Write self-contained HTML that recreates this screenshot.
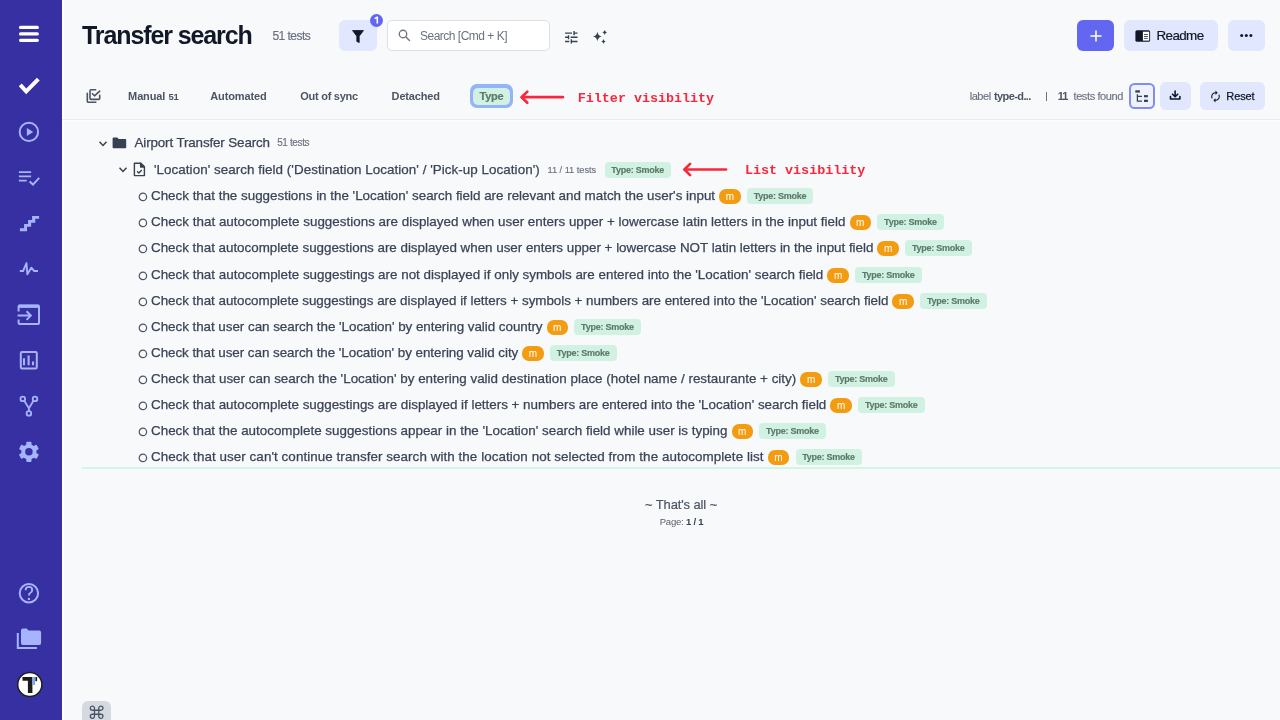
<!DOCTYPE html>
<html><head><meta charset="utf-8"><title>Transfer search</title>
<style>
html,body{margin:0;padding:0}
body{width:1280px;height:720px;overflow:hidden;position:relative;background:#f8f9fb;font-family:"Liberation Sans",sans-serif}
#sb{position:absolute;left:0;top:0;width:62px;height:720px;background:#3730a3}
.t{position:absolute;white-space:nowrap;line-height:1;-webkit-font-smoothing:antialiased}
.b{position:absolute}
svg{display:block}
#root{position:absolute;left:0;top:0;width:1280px;height:720px;will-change:transform}
</style></head><body><div id="root">
<div id="sb"></div><div style="position:absolute;left:62px;top:0;width:2px;height:720px;background:#fff"></div><svg style="position:absolute;left:0;top:0" width="62" height="720" viewBox="0 0 62 720">
<g stroke="#fff" stroke-linecap="round" fill="none">
<path d="M20.6 27.4H37.3M20.6 33.9H37.3M20.6 40.3H37.3" stroke-width="3.3"/>
<path d="M21.6 86.3L26.2 91.4L36.9 80.6" stroke-width="4" stroke-linecap="square"/>
</g>
<g stroke="#a5b4fc" fill="none" stroke-width="2">
<circle cx="28.9" cy="131.9" r="9.2"/>
<path d="M18.9 172.2H31.1M18.9 176.3H31.1M18.9 180.6H26.7" stroke-width="1.8"/>
<path d="M29.6 181.6L33 184.6L39.2 177.9"/>

<path d="M19.8 271H23.1L26.5 263.2L27.3 274.3L31.3 267.7L34.2 271H38" stroke-width="1.9" stroke-linejoin="round" stroke-linecap="butt"/>
<path d="M18.6 311.5V306.4Q18.6 305.4 19.6 305.4H38Q39 305.4 39 306.4V323Q39 324 38 324H19.6Q18.6 324 18.6 323V319.6"/>
<path d="M18.6 306.3H39" stroke-width="3.2"/>
<path d="M17.6 315.6H30.5M26.6 311.3L30.8 315.6L26.6 319.9"/>
<rect x="20.8" y="352.1" width="16" height="16.3" rx="1.2"/>
<path d="M24 358.3V365.3M28.6 355.6V365.3M33 361.4V365.3" stroke-width="2.1"/>
<circle cx="22.8" cy="398.9" r="2.3" stroke-width="1.8"/>
<circle cx="35" cy="398.9" r="2.3" stroke-width="1.8"/>
<circle cx="28.9" cy="413.4" r="2.3" stroke-width="1.8"/>
<path d="M24.3 400.8L28.9 408.3L33.5 400.8M28.9 408.3V411.1" stroke-width="1.8"/>
<circle cx="28.9" cy="593.2" r="9.2"/>
<path d="M25.6 590.3Q25.6 586.9 28.9 586.9Q32.2 586.9 32.2 590Q32.2 592 30.2 593Q28.9 593.7 28.9 595.6" stroke-width="1.9"/>
<path d="M17.8 633V648.1H36.9"/>
</g>
<g fill="#a5b4fc">
<path d="M26.9 128.1L33.2 132.1L26.9 136.1Z"/>
<path d="M19.9 228.2H24.1V224.1H28.1V220.1H32.1V216H39.1V218.8H35.3V222.7H31.1V226.8H27V231.3H19.9Z"/>
<circle cx="28.9" cy="598.9" r="1.2"/>
<path d="M21 630.5Q21 628.6 22.9 628.6H26.6L28.6 630.6H39.2Q41.1 630.6 41.1 632.5V643.1Q41.1 645 39.2 645H22.9Q21 645 21 643.1Z"/>
</g>
<g transform="translate(28.9 451.8)">
<g fill="#a5b4fc">
<circle r="7.6"/>
<rect x="-2.6" y="-10.1" width="5.2" height="20.2" rx="1"/>
<rect x="-2.6" y="-10.1" width="5.2" height="20.2" rx="1" transform="rotate(60)"/>
<rect x="-2.6" y="-10.1" width="5.2" height="20.2" rx="1" transform="rotate(120)"/>
</g>
<circle r="3.75" fill="#3730a3"/>
</g>
<circle cx="29.8" cy="684.5" r="12.1" fill="#fff" stroke="#1f1f1f" stroke-width="1.5"/>
<path d="M22.5 677H32.4V692.9H27.9V680.8H22.5Z" fill="#1c1c1c"/>
<rect x="33.3" y="677" width="1.5" height="8" fill="#4f8ff7"/>
<rect x="35.4" y="677" width="1.7" height="4.2" fill="#1c1c1c"/>
</svg><div class="t " style="left:82.00px;top:23px;font-size:25px;font-weight:bold;color:#111827;letter-spacing:-1.1px">Transfer search</div>
<div class="t " style="left:272.50px;top:30px;font-size:12px;color:#6b7280;letter-spacing:-0.55px;-webkit-text-stroke:0.2px #6b7280">51 tests</div>
<div class="b" style="left:339.40px;top:20.30px;width:37.60px;height:30.70px;background:#e0e7ff;border-radius:6px"></div>
<svg style="position:absolute;left:352.2px;top:29.5px" width="12" height="13" viewBox="0 0 12 13"><path d="M0.5 0.5H11.5L7.2 6.2V12.6L4.8 11.4V6.2Z" fill="#111827" stroke="#111827" stroke-width="0.8" stroke-linejoin="round"/></svg><div class="b" style="left:370.40px;top:13.70px;width:13.00px;height:13.10px;background:#6366f1;border-radius:50%"></div>
<svg style="position:absolute;left:370px;top:13px" width="14" height="14" viewBox="370 13 14 14"><path d="M374.6 18.6L377.3 17.1V23.4" fill="none" stroke="#fff" stroke-width="1.6" stroke-linejoin="round"/></svg>
<div class="b" style="left:387.00px;top:20.00px;width:163.00px;height:31.00px;background:#fff;border:1px solid #dcdfe4;border-radius:5px;box-sizing:border-box"></div>
<svg style="position:absolute;left:396px;top:27px" width="16" height="16" viewBox="396 27 16 16"><circle cx="403" cy="34" r="3.75" fill="none" stroke="#6b7280" stroke-width="1.3"/><path d="M405.9 36.9L409.5 40.5" stroke="#6b7280" stroke-width="1.4" stroke-linecap="round"/></svg>
<div class="t " style="left:420.00px;top:30px;font-size:12px;color:#6b7280;letter-spacing:-0.5px">Search [Cmd + K]</div>
<svg style="position:absolute;left:563px;top:28.8px" width="16.6" height="16.6" viewBox="0 0 24 24"><path d="M3 17v2h6v-2H3zM3 5v2h10V5H3zm10 16v-2h8v-2h-8v-2h-2v6h2zM7 9v2H3v2h4v2h2V9H7zm14 4v-2H11v2h10zm-6-4h2V7h4V5h-4V3h-2v6z" fill="#374151"/></svg><svg style="position:absolute;left:590px;top:28px" width="20" height="18" viewBox="0 0 20 18"><path fill="#374151" d="M7.40 3.50Q7.95 7.85 11.80 8.40Q7.95 8.95 7.40 13.30Q6.85 8.95 3.00 8.40Q6.85 7.85 7.40 3.50ZM14.70 2.10Q15.15 4.05 17.00 4.50Q15.15 4.95 14.70 6.90Q14.25 4.95 12.40 4.50Q14.25 4.05 14.70 2.10ZM13.50 10.90Q13.95 12.95 15.70 13.40Q13.95 13.85 13.50 15.90Q13.05 13.85 11.30 13.40Q13.05 12.95 13.50 10.90Z"/></svg><div class="b" style="left:1076.60px;top:20.30px;width:37.70px;height:30.70px;background:#6366f1;border-radius:6px"></div>
<svg style="position:absolute;left:1089.5px;top:29.8px" width="12" height="12" viewBox="0 0 12 12"><path d="M6 1V11M1 6H11" stroke="#fff" stroke-width="1.55" stroke-linecap="round"/></svg><div class="b" style="left:1124.10px;top:20.30px;width:93.60px;height:30.70px;background:#e0e7ff;border-radius:6px"></div>
<svg style="position:absolute;left:1133px;top:28px" width="20" height="16" viewBox="1133 28 20 16"><rect x="1135.4" y="30.2" width="14.7" height="11.6" rx="1.6" fill="#111827"/><rect x="1142.9" y="31.7" width="6.3" height="8.9" fill="#fff"/><path d="M1144 34.5H1147.8M1144 36.5H1147.8M1144 38.4H1147.8" stroke="#3b4252" stroke-width="0.9"/></svg>
<div class="t " style="left:1156.50px;top:29px;font-size:13.4px;color:#111827;letter-spacing:-0.6px;-webkit-text-stroke:0.2px #111827">Readme</div>
<div class="b" style="left:1227.50px;top:20.30px;width:37.40px;height:30.70px;background:#e0e7ff;border-radius:6px"></div>
<svg style="position:absolute;left:1240px;top:33px" width="13" height="5" viewBox="0 0 13 5"><g fill="#111827"><circle cx="1.7" cy="2.5" r="1.5"/><circle cx="6.3" cy="2.5" r="1.5"/><circle cx="10.9" cy="2.5" r="1.5"/></g></svg><svg style="position:absolute;left:80px;top:84px" width="28" height="24" viewBox="0 0 28 24"><g fill="none" stroke="#4b5563" stroke-width="1.6" stroke-linecap="round" stroke-linejoin="round"><path d="M7.3 9.4V17.2Q7.3 18.3 8.4 18.3H15.8"/><path d="M15.6 5.8H11.1Q10 5.8 10 6.9V14.3Q10 15.4 11.1 15.4H18.6Q19.7 15.4 19.7 14.3V11.4"/><path d="M12.4 9.7L14.5 11.8L19.7 7.2"/></g></svg><div class="t " style="left:128.10px;top:91px;font-size:11px;color:#4b5563;font-weight:bold;letter-spacing:-0.13px">Manual</div>
<div class="t " style="left:168.50px;top:92px;font-size:9.5px;color:#4b5563;font-weight:bold;letter-spacing:-0.3px">51</div>
<div class="t " style="left:210.30px;top:91px;font-size:11px;color:#4b5563;font-weight:bold;letter-spacing:-0.14px">Automated</div>
<div class="t " style="left:300.20px;top:91px;font-size:11px;color:#4b5563;font-weight:bold;letter-spacing:-0.25px">Out of sync</div>
<div class="t " style="left:391.60px;top:91px;font-size:11px;color:#4b5563;font-weight:bold;letter-spacing:-0.16px">Detached</div>
<div class="b" style="left:470.00px;top:84.40px;width:43.00px;height:23.40px;border-radius:7px;background:#93b4f9"></div>
<div class="b" style="left:473.20px;top:87.70px;width:36.60px;height:16.90px;border-radius:5px;background:#d1f2e3"></div>
<div class="t " style="left:479.60px;top:91px;font-size:11px;color:#5b7a69;font-weight:bold;letter-spacing:-0.3px;-webkit-text-stroke:0.2px #5b7a69">Type</div>
<svg style="position:absolute;left:515px;top:86px" width="55" height="22" viewBox="515 86 55 22"><g fill="none" stroke="#f5283e" stroke-width="2.7" stroke-linecap="round" stroke-linejoin="round"><path d="M522 97.2H562.9"/><path d="M527.3 91.6L521.6 97.2L527.3 102.8"/></g></svg>
<div class="t " style="left:577.80px;top:92px;font-size:13.4px;color:#f5283e;font-weight:bold;font-family:'Liberation Mono',monospace;letter-spacing:-0.02px">Filter visibility</div>
<div class="t " style="left:969.70px;top:91px;font-size:11px;color:#6b7280;-webkit-text-stroke:0.15px #6b7280;letter-spacing:-0.45px">label</div>
<div class="t " style="left:994.00px;top:91px;font-size:11px;color:#4b5563;font-weight:bold;letter-spacing:-0.6px">type-d...</div>
<div class="b" style="left:1045.60px;top:91.50px;width:1.30px;height:9.30px;background:#6b7280"></div>
<div class="t " style="left:1057.80px;top:91px;font-size:11px;color:#4b5563;font-weight:bold;letter-spacing:-1px">11</div>
<div class="t " style="left:1073.50px;top:91px;font-size:11px;color:#6b7280;-webkit-text-stroke:0.15px #6b7280;letter-spacing:-0.4px">tests found</div>
<div class="b" style="left:1128.90px;top:83.10px;width:25.80px;height:25.80px;border:2px solid #818cf8;border-radius:5.5px;background:#eef2ff;box-sizing:border-box"></div>
<svg style="position:absolute;left:1132px;top:88px" width="20" height="18" viewBox="1132 88 20 18"><g fill="#374151"><rect x="1135.3" y="90.3" width="4.6" height="2.3"/><rect x="1144" y="95.1" width="3.9" height="2.2"/><rect x="1144" y="99.7" width="3.9" height="2.3"/></g><path d="M1137.4 94.3V101.1H1142M1137.4 96.3H1142" fill="none" stroke="#374151" stroke-width="1.3"/></svg>
<div class="b" style="left:1159.70px;top:82.30px;width:31.00px;height:27.70px;background:#e0e7ff;border-radius:6px"></div>
<svg style="position:absolute;left:1166px;top:88px" width="18" height="14" viewBox="1166 88 18 14"><g fill="none" stroke="#111827" stroke-width="1.6" stroke-linecap="round" stroke-linejoin="round"><path d="M1175.1 91V96.4M1172.5 94.2L1175.1 96.8L1177.7 94.2"/><path d="M1170.5 96.6V99H1179.9V96.6"/></g></svg>
<div class="b" style="left:1200.30px;top:82.30px;width:64.50px;height:27.70px;background:#e0e7ff;border-radius:6px"></div>
<svg style="position:absolute;left:1209.4px;top:89.7px" width="13" height="13" viewBox="0 0 24 24"><path transform="translate(24 0) scale(-1 1)" fill="#111827" d="M12 4V1L8 5l4 4V6c3.31 0 6 2.690 6 6 0 1.01-.25 1.97-.7 2.8l1.46 1.46C19.54 15.03 20 13.57 20 12c0-4.42-3.58-8-8-8zm0 14c-3.31 0-6-2.69-6-6 0-1.010.25-1.97.7-2.8L5.24 7.74C4.46 8.97 4 10.43 4 12c0 4.42 3.58 8 8 8v3l4-4-4-4v3z"/></svg><div class="t " style="left:1226.30px;top:91px;font-size:11px;color:#111827;letter-spacing:-0.1px;-webkit-text-stroke:0.25px #111827">Reset</div>
<div class="b" style="left:62.00px;top:119.00px;width:1218.00px;height:1.00px;background:#eaebef"></div>
<div class="b" style="left:62.00px;top:120.00px;width:1218.00px;height:1.00px;background:#fcfcfd"></div>
<svg style="position:absolute;left:98px;top:139.5px" width="10" height="8" viewBox="0 0 10 8"><path d="M1.5 1.8L5 5.4L8.5 1.8" fill="none" stroke="#374151" stroke-width="1.5"/></svg><svg style="position:absolute;left:111.9px;top:137px" width="15" height="12" viewBox="0 0 15 12"><path d="M0.6 1.4Q0.6 0.4 1.6 0.4H5.2L6.8 2H13.2Q14.2 2 14.2 3V10.2Q14.2 11.2 13.2 11.2H1.6Q0.6 11.2 0.6 10.2Z" fill="#374151"/></svg><div class="t " style="left:134.50px;top:136px;font-size:13.4px;color:#3a4456;-webkit-text-stroke:0.25px #3a4456;letter-spacing:-0.13px">Airport Transfer Search</div>
<div class="t " style="left:277.20px;top:138px;font-size:10px;color:#6b7280;-webkit-text-stroke:0.15px #6b7280;letter-spacing:-0.38px">51 tests</div>
<svg style="position:absolute;left:117.5px;top:165.5px" width="10" height="8" viewBox="0 0 10 8"><path d="M1.5 1.8L5 5.4L8.5 1.8" fill="none" stroke="#374151" stroke-width="1.5"/></svg><svg style="position:absolute;left:133px;top:162px" width="13" height="15" viewBox="0 0 13 15"><g fill="none" stroke="#374151" stroke-width="1.4" stroke-linejoin="round"><path d="M1.4 1.2H7.8L11.4 4.8V13.6H1.4Z"/><path d="M7.6 1.2V5H11.4Z" fill="#374151"/><path d="M4.1 9.2L5.8 10.9L8.8 7.9"/></g></svg><div class="t " style="left:154.00px;top:163px;font-size:13.4px;color:#3a4456;-webkit-text-stroke:0.25px #3a4456;letter-spacing:0.05px">'Location' search field ('Destination Location' / 'Pick-up Location')</div>
<div class="t " style="left:547.50px;top:166px;font-size:9.3px;color:#6b7280;-webkit-text-stroke:0.15px #6b7280;letter-spacing:-0.05px">11 / 11 tests</div>
<div class="b" style="left:604.60px;top:161.75px;width:66.40px;height:16.10px;background:#d1f2e3;border-radius:4px"></div>
<div class="t " style="left:611.30px;top:166px;font-size:9px;color:#5b7a69;font-weight:bold;letter-spacing:-0.25px;-webkit-text-stroke:0.15px #5b7a69">Type: Smoke</div>
<svg style="position:absolute;left:678px;top:158px" width="55" height="22" viewBox="678 158 55 22"><g fill="none" stroke="#f5283e" stroke-width="2.7" stroke-linecap="round" stroke-linejoin="round"><path d="M685 169.5H726"/><path d="M690.1 163.9L684.4 169.5L690.1 175.1"/></g></svg>
<div class="t " style="left:745.00px;top:164px;font-size:13.4px;color:#f5283e;font-weight:bold;font-family:'Liberation Mono',monospace;letter-spacing:-0.02px">List visibility</div>
<svg style="position:absolute;left:137.5px;top:191.95px" width="10" height="10" viewBox="0 0 10 10"><circle cx="4.9" cy="4.9" r="3.7" fill="none" stroke="#4b5563" stroke-width="1.2"/></svg>
<div class="t " style="left:151.00px;top:189px;font-size:13.4px;color:#3a4456;-webkit-text-stroke:0.25px #3a4456;letter-spacing:-0.0038px">Check that the suggestions in the &#39;Location&#39; search field are relevant and match the user&#39;s input</div>
<div class="b" style="left:719.10px;top:188.70px;width:21.60px;height:15.00px;background:#f39c12;border-radius:7px"></div>
<div class="t " style="left:725.70px;top:192px;font-size:10px;color:#fff">m</div>
<div class="b" style="left:747.00px;top:187.75px;width:66.40px;height:16.10px;background:#d1f2e3;border-radius:4px"></div>
<div class="t " style="left:753.70px;top:192px;font-size:9px;color:#5b7a69;font-weight:bold;letter-spacing:-0.25px;-webkit-text-stroke:0.15px #5b7a69">Type: Smoke</div>
<svg style="position:absolute;left:137.5px;top:217.95px" width="10" height="10" viewBox="0 0 10 10"><circle cx="4.9" cy="4.9" r="3.7" fill="none" stroke="#4b5563" stroke-width="1.2"/></svg>
<div class="t " style="left:151.00px;top:215px;font-size:13.4px;color:#3a4456;-webkit-text-stroke:0.25px #3a4456;letter-spacing:0.0159px">Check that autocomplete suggestions are displayed when user enters upper + lowercase latin letters in the input field</div>
<div class="b" style="left:849.50px;top:214.70px;width:21.60px;height:15.00px;background:#f39c12;border-radius:7px"></div>
<div class="t " style="left:856.10px;top:218px;font-size:10px;color:#fff">m</div>
<div class="b" style="left:877.40px;top:213.75px;width:66.40px;height:16.10px;background:#d1f2e3;border-radius:4px"></div>
<div class="t " style="left:884.10px;top:218px;font-size:9px;color:#5b7a69;font-weight:bold;letter-spacing:-0.25px;-webkit-text-stroke:0.15px #5b7a69">Type: Smoke</div>
<svg style="position:absolute;left:137.5px;top:243.95px" width="10" height="10" viewBox="0 0 10 10"><circle cx="4.9" cy="4.9" r="3.7" fill="none" stroke="#4b5563" stroke-width="1.2"/></svg>
<div class="t " style="left:151.00px;top:241px;font-size:13.4px;color:#3a4456;-webkit-text-stroke:0.25px #3a4456;letter-spacing:-0.0163px">Check that autocomplete suggestions are displayed when user enters upper + lowercase NOT latin letters in the input field</div>
<div class="b" style="left:877.40px;top:240.70px;width:21.60px;height:15.00px;background:#f39c12;border-radius:7px"></div>
<div class="t " style="left:884.00px;top:244px;font-size:10px;color:#fff">m</div>
<div class="b" style="left:905.30px;top:239.75px;width:66.40px;height:16.10px;background:#d1f2e3;border-radius:4px"></div>
<div class="t " style="left:912.00px;top:244px;font-size:9px;color:#5b7a69;font-weight:bold;letter-spacing:-0.25px;-webkit-text-stroke:0.15px #5b7a69">Type: Smoke</div>
<svg style="position:absolute;left:137.5px;top:270.95px" width="10" height="10" viewBox="0 0 10 10"><circle cx="4.9" cy="4.9" r="3.7" fill="none" stroke="#4b5563" stroke-width="1.2"/></svg>
<div class="t " style="left:151.00px;top:268px;font-size:13.4px;color:#3a4456;-webkit-text-stroke:0.25px #3a4456;letter-spacing:0.0021px">Check that autocomplete suggestings are not displayed if only symbols are entered into the &#39;Location&#39; search field</div>
<div class="b" style="left:827.30px;top:267.70px;width:21.60px;height:15.00px;background:#f39c12;border-radius:7px"></div>
<div class="t " style="left:833.90px;top:271px;font-size:10px;color:#fff">m</div>
<div class="b" style="left:855.20px;top:266.75px;width:66.40px;height:16.10px;background:#d1f2e3;border-radius:4px"></div>
<div class="t " style="left:861.90px;top:271px;font-size:9px;color:#5b7a69;font-weight:bold;letter-spacing:-0.25px;-webkit-text-stroke:0.15px #5b7a69">Type: Smoke</div>
<svg style="position:absolute;left:137.5px;top:296.95px" width="10" height="10" viewBox="0 0 10 10"><circle cx="4.9" cy="4.9" r="3.7" fill="none" stroke="#4b5563" stroke-width="1.2"/></svg>
<div class="t " style="left:151.00px;top:294px;font-size:13.4px;color:#3a4456;-webkit-text-stroke:0.25px #3a4456;letter-spacing:-0.0251px">Check that autocomplete suggestings are displayed if letters + symbols + numbers are entered into the &#39;Location&#39; search field</div>
<div class="b" style="left:892.40px;top:293.70px;width:21.60px;height:15.00px;background:#f39c12;border-radius:7px"></div>
<div class="t " style="left:899.00px;top:297px;font-size:10px;color:#fff">m</div>
<div class="b" style="left:920.30px;top:292.75px;width:66.40px;height:16.10px;background:#d1f2e3;border-radius:4px"></div>
<div class="t " style="left:927.00px;top:297px;font-size:9px;color:#5b7a69;font-weight:bold;letter-spacing:-0.25px;-webkit-text-stroke:0.15px #5b7a69">Type: Smoke</div>
<svg style="position:absolute;left:137.5px;top:322.95px" width="10" height="10" viewBox="0 0 10 10"><circle cx="4.9" cy="4.9" r="3.7" fill="none" stroke="#4b5563" stroke-width="1.2"/></svg>
<div class="t " style="left:151.00px;top:320px;font-size:13.4px;color:#3a4456;-webkit-text-stroke:0.25px #3a4456;letter-spacing:-0.0324px">Check that user can search the &#39;Location&#39; by entering valid country</div>
<div class="b" style="left:546.50px;top:319.70px;width:21.60px;height:15.00px;background:#f39c12;border-radius:7px"></div>
<div class="t " style="left:553.10px;top:323px;font-size:10px;color:#fff">m</div>
<div class="b" style="left:574.40px;top:318.75px;width:66.40px;height:16.10px;background:#d1f2e3;border-radius:4px"></div>
<div class="t " style="left:581.10px;top:323px;font-size:9px;color:#5b7a69;font-weight:bold;letter-spacing:-0.25px;-webkit-text-stroke:0.15px #5b7a69">Type: Smoke</div>
<svg style="position:absolute;left:137.5px;top:348.95px" width="10" height="10" viewBox="0 0 10 10"><circle cx="4.9" cy="4.9" r="3.7" fill="none" stroke="#4b5563" stroke-width="1.2"/></svg>
<div class="t " style="left:151.00px;top:346px;font-size:13.4px;color:#3a4456;-webkit-text-stroke:0.25px #3a4456;letter-spacing:-0.0405px">Check that user can search the &#39;Location&#39; by entering valid city</div>
<div class="b" style="left:522.25px;top:345.70px;width:21.60px;height:15.00px;background:#f39c12;border-radius:7px"></div>
<div class="t " style="left:528.85px;top:349px;font-size:10px;color:#fff">m</div>
<div class="b" style="left:550.15px;top:344.75px;width:66.40px;height:16.10px;background:#d1f2e3;border-radius:4px"></div>
<div class="t " style="left:556.85px;top:349px;font-size:9px;color:#5b7a69;font-weight:bold;letter-spacing:-0.25px;-webkit-text-stroke:0.15px #5b7a69">Type: Smoke</div>
<svg style="position:absolute;left:137.5px;top:374.95px" width="10" height="10" viewBox="0 0 10 10"><circle cx="4.9" cy="4.9" r="3.7" fill="none" stroke="#4b5563" stroke-width="1.2"/></svg>
<div class="t " style="left:151.00px;top:372px;font-size:13.4px;color:#3a4456;-webkit-text-stroke:0.25px #3a4456;letter-spacing:0.0171px">Check that user can search the &#39;Location&#39; by entering valid destination place (hotel name / restaurante + city)</div>
<div class="b" style="left:800.30px;top:371.70px;width:21.60px;height:15.00px;background:#f39c12;border-radius:7px"></div>
<div class="t " style="left:806.90px;top:375px;font-size:10px;color:#fff">m</div>
<div class="b" style="left:828.20px;top:370.75px;width:66.40px;height:16.10px;background:#d1f2e3;border-radius:4px"></div>
<div class="t " style="left:834.90px;top:375px;font-size:9px;color:#5b7a69;font-weight:bold;letter-spacing:-0.25px;-webkit-text-stroke:0.15px #5b7a69">Type: Smoke</div>
<svg style="position:absolute;left:137.5px;top:400.95px" width="10" height="10" viewBox="0 0 10 10"><circle cx="4.9" cy="4.9" r="3.7" fill="none" stroke="#4b5563" stroke-width="1.2"/></svg>
<div class="t " style="left:151.00px;top:398px;font-size:13.4px;color:#3a4456;-webkit-text-stroke:0.25px #3a4456;letter-spacing:-0.0074px">Check that autocomplete suggestings are displayed if letters + numbers are entered into the &#39;Location&#39; search field</div>
<div class="b" style="left:830.30px;top:397.70px;width:21.60px;height:15.00px;background:#f39c12;border-radius:7px"></div>
<div class="t " style="left:836.90px;top:401px;font-size:10px;color:#fff">m</div>
<div class="b" style="left:858.20px;top:396.75px;width:66.40px;height:16.10px;background:#d1f2e3;border-radius:4px"></div>
<div class="t " style="left:864.90px;top:401px;font-size:9px;color:#5b7a69;font-weight:bold;letter-spacing:-0.25px;-webkit-text-stroke:0.15px #5b7a69">Type: Smoke</div>
<svg style="position:absolute;left:137.5px;top:426.95px" width="10" height="10" viewBox="0 0 10 10"><circle cx="4.9" cy="4.9" r="3.7" fill="none" stroke="#4b5563" stroke-width="1.2"/></svg>
<div class="t " style="left:151.00px;top:424px;font-size:13.4px;color:#3a4456;-webkit-text-stroke:0.25px #3a4456;letter-spacing:0.0046px">Check that the autocomplete suggestions appear in the &#39;Location&#39; search field while user is typing</div>
<div class="b" style="left:731.50px;top:423.70px;width:21.60px;height:15.00px;background:#f39c12;border-radius:7px"></div>
<div class="t " style="left:738.10px;top:427px;font-size:10px;color:#fff">m</div>
<div class="b" style="left:759.40px;top:422.75px;width:66.40px;height:16.10px;background:#d1f2e3;border-radius:4px"></div>
<div class="t " style="left:766.10px;top:427px;font-size:9px;color:#5b7a69;font-weight:bold;letter-spacing:-0.25px;-webkit-text-stroke:0.15px #5b7a69">Type: Smoke</div>
<svg style="position:absolute;left:137.5px;top:452.95px" width="10" height="10" viewBox="0 0 10 10"><circle cx="4.9" cy="4.9" r="3.7" fill="none" stroke="#4b5563" stroke-width="1.2"/></svg>
<div class="t " style="left:151.00px;top:450px;font-size:13.4px;color:#3a4456;-webkit-text-stroke:0.25px #3a4456;letter-spacing:0.0686px">Check that user can&#39;t continue transfer search with the location not selected from the autocomplete list</div>
<div class="b" style="left:767.60px;top:449.70px;width:21.60px;height:15.00px;background:#f39c12;border-radius:7px"></div>
<div class="t " style="left:774.20px;top:453px;font-size:10px;color:#fff">m</div>
<div class="b" style="left:795.50px;top:448.75px;width:66.40px;height:16.10px;background:#d1f2e3;border-radius:4px"></div>
<div class="t " style="left:802.20px;top:453px;font-size:9px;color:#5b7a69;font-weight:bold;letter-spacing:-0.25px;-webkit-text-stroke:0.15px #5b7a69">Type: Smoke</div>
<div class="b" style="left:82.00px;top:467.00px;width:1198.00px;height:1.80px;background:#cff7e3"></div>
<div class="t " style="left:645.00px;top:498px;font-size:13px;color:#4b5563;letter-spacing:-0.12px;-webkit-text-stroke:0.2px #4b5563">~ That&#39;s all ~</div>
<div class="t " style="left:659.70px;top:517px;font-size:9.5px;color:#555d6b;letter-spacing:-0.2px">Page: <b style="color:#374151">1 / 1</b></div>
<div class="b" style="left:82.20px;top:700.90px;width:28.90px;height:27.10px;background:#d5d9e0;border-radius:6px"></div>
<svg style="position:absolute;left:86px;top:702px" width="22" height="18" viewBox="86 702 22 18"><path d="M94.5 708.15V716.35A2.1 2.1 0 1 1 92.40 714.25H100.85A2.1 2.1 0 1 1 98.75 716.35V708.15A2.1 2.1 0 1 1 100.85 710.25H92.40A2.1 2.1 0 1 1 94.5 708.15Z" fill="none" stroke="#4a5568" stroke-width="1.3"/></svg>

</div></body></html>
